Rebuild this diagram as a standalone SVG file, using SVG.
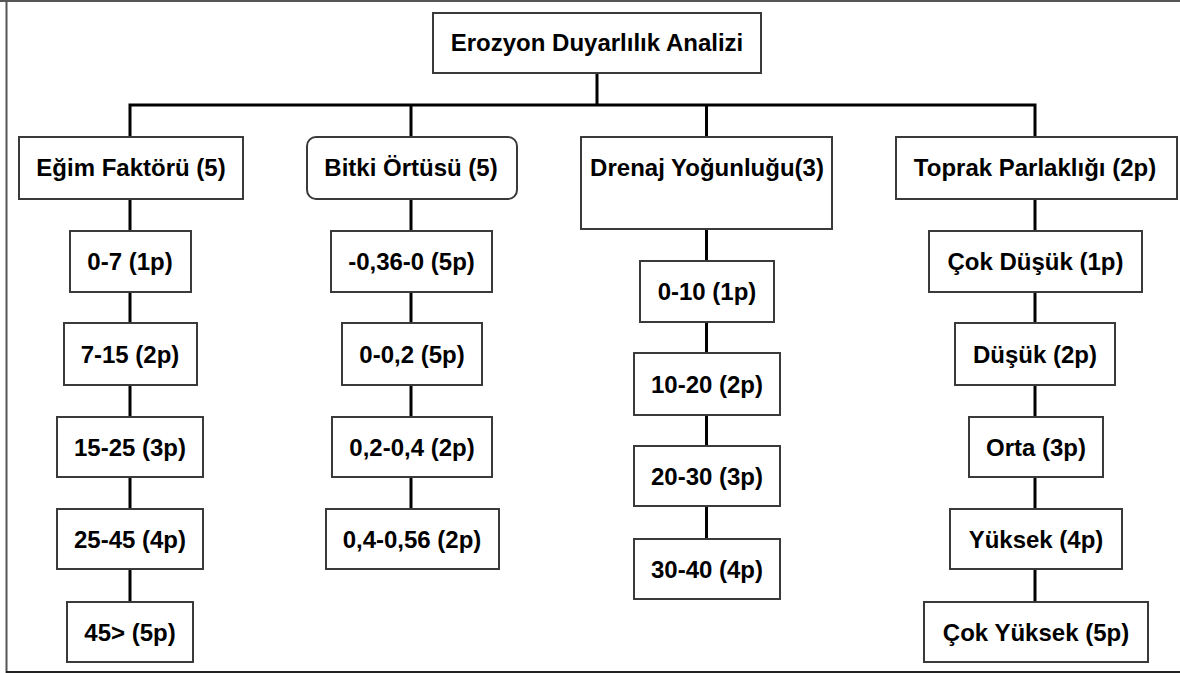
<svg xmlns="http://www.w3.org/2000/svg" width="1180" height="673" viewBox="0 0 1180 673">
<style>
.b{fill:#fff;stroke:#3a3a3a;stroke-width:2}
.t{font-family:"Liberation Sans",Arial,sans-serif;font-weight:bold;font-size:24px;fill:#000;text-anchor:middle}
.c{fill:none;stroke:#000;stroke-width:3}
</style>
<rect x="0" y="0" width="1180" height="673" fill="#fff"/>
<g id="frame">
<line x1="0" y1="1" x2="1180" y2="1" stroke="#555" stroke-width="2"/>
<line x1="6.5" y1="0" x2="6.5" y2="673" stroke="#555" stroke-width="2"/>
<line x1="6" y1="672" x2="1180" y2="672" stroke="#222" stroke-width="2"/>
</g>
<g id="connectors">
<path class="c" d="M597 73V105M130 137V105H1035V137M411 105V137M706.5 105V137"/>
<path class="c" d="M130 199V602M411 199V509M706.5 229V539M1035 199V602"/>
</g>
<g id="root"><rect class="b" x="433" y="13" width="328" height="60"/><text class="t" x="597" y="51">Erozyon Duyarlılık Analizi</text></g>
<g id="egim"><rect class="b" x="19" y="137" width="224" height="62"/><text class="t" x="131" y="176">Eğim Faktörü (5)</text></g>
<g id="bitki"><rect class="b" x="307" y="137" width="210" height="62" rx="9"/><text class="t" x="411" y="176">Bitki Örtüsü (5)</text></g>
<g id="drenaj"><rect class="b" x="581" y="137" width="251" height="92"/><text class="t" x="707" y="176">Drenaj Yoğunluğu(3)</text></g>
<g id="toprak"><rect class="b" x="896" y="137" width="281" height="62"/><text class="t" x="1035" y="176">Toprak Parlaklığı (2p)</text></g>

<g id="e1"><rect class="b" x="70" y="231" width="121" height="61"/><text class="t" x="130" y="270">0-7 (1p)</text></g>
<g id="e2"><rect class="b" x="64" y="323" width="133" height="62"/><text class="t" x="130" y="362.5">7-15 (2p)</text></g>
<g id="e3"><rect class="b" x="57" y="417" width="146" height="60"/><text class="t" x="130" y="455.5">15-25 (3p)</text></g>
<g id="e4"><rect class="b" x="57" y="509" width="146" height="60"/><text class="t" x="130" y="547.5">25-45 (4p)</text></g>
<g id="e5"><rect class="b" x="67" y="602" width="126" height="60"/><text class="t" x="130" y="640.5">45&gt; (5p)</text></g>

<g id="b1"><rect class="b" x="331" y="231" width="161" height="61"/><text class="t" x="411.5" y="270">-0,36-0 (5p)</text></g>
<g id="b2"><rect class="b" x="342" y="323" width="140" height="62"/><text class="t" x="412" y="362.5">0-0,2 (5p)</text></g>
<g id="b3"><rect class="b" x="332" y="417" width="160" height="60"/><text class="t" x="412" y="455.5">0,2-0,4 (2p)</text></g>
<g id="b4"><rect class="b" x="326" y="509" width="173" height="60"/><text class="t" x="412" y="547.5">0,4-0,56 (2p)</text></g>

<g id="d1"><rect class="b" x="640" y="261" width="134" height="61"/><text class="t" x="707" y="300">0-10 (1p)</text></g>
<g id="d2"><rect class="b" x="634" y="353" width="146" height="62"/><text class="t" x="707" y="392.5">10-20 (2p)</text></g>
<g id="d3"><rect class="b" x="634" y="446" width="146" height="60"/><text class="t" x="707" y="484.5">20-30 (3p)</text></g>
<g id="d4"><rect class="b" x="634" y="539" width="146" height="60"/><text class="t" x="707" y="577.5">30-40 (4p)</text></g>

<g id="t1"><rect class="b" x="929" y="231" width="213" height="61"/><text class="t" x="1035.5" y="270">Çok Düşük (1p)</text></g>
<g id="t2"><rect class="b" x="955" y="323" width="160" height="62"/><text class="t" x="1035" y="362.5">Düşük (2p)</text></g>
<g id="t3"><rect class="b" x="969" y="417" width="134" height="60"/><text class="t" x="1036" y="455.5">Orta (3p)</text></g>
<g id="t4"><rect class="b" x="950" y="509" width="172" height="60"/><text class="t" x="1036" y="547.5">Yüksek (4p)</text></g>
<g id="t5"><rect class="b" x="924" y="602" width="224" height="60"/><text class="t" x="1036" y="640.5">Çok Yüksek (5p)</text></g>
</svg>
